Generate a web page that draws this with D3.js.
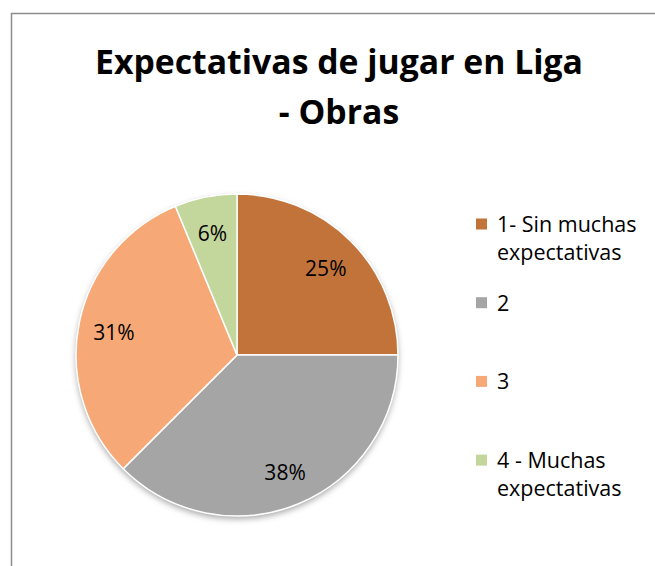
<!DOCTYPE html>
<html>
<head>
<meta charset="utf-8">
<script src="https://cdn.jsdelivr.net/npm/d3@7"></script>
<style>
  html, body { margin: 0; padding: 0; background: #fff; overflow: hidden; }
  svg { display: block; }
  text { font-family: "Open Sans", Lato, sans-serif; }
</style>
</head>
<body>
<svg id="chart" width="655" height="566"></svg>
<script>
// data
var categories = ["1- Sin muchas expectativas", "2", "3", "4 - Muchas expectativas"];
var legendLines = [["1- Sin muchas", "expectativas"], ["2"], ["3"], ["4 - Muchas", "expectativas"]];
var values = [4, 6, 5, 1];
var colors = ["#C1733A", "#A5A5A5", "#F6A977", "#C3D69B"];
var titleLines = ["Expectativas de jugar en Liga", "- Obras"];

var svg = d3.select("#chart");
var cx = 237, cy = 355, r = 161;

// frame of the chart area: only left and top edges are in view
svg.append("path")
  .attr("d", "M11.5,566V13.5H655")
  .attr("fill", "none")
  .attr("stroke", "#8c8c8c")
  .attr("stroke-width", 1.5);

// title, sized so the first line spans the same width as the reference
var title = svg.append("g").selectAll("text")
  .data(titleLines)
  .join("text")
  .attr("x", 339)
  .attr("text-anchor", "middle")
  .attr("font-size", 32)
  .attr("font-weight", "bold")
  .attr("fill", "#000")
  .text(function(d) { return d; });
var w = title.nodes()[0].getComputedTextLength();
var fs = 32 * 488 / w;
title.attr("font-size", fs)
  .attr("y", function(d, i) { return 74 + i * 50; });

// soft shadow under the pie
var defs = svg.append("defs");
var f = defs.append("filter").attr("id", "shadow")
  .attr("x", "-20%").attr("y", "-20%").attr("width", "140%").attr("height", "140%");
f.append("feDropShadow")
  .attr("dx", 0).attr("dy", 3).attr("stdDeviation", 3)
  .attr("flood-color", "#000").attr("flood-opacity", 0.35);

var pie = d3.pie().sort(null).value(function(d) { return d; });
var arcs = pie(values);
var total = d3.sum(values);
var arc = d3.arc().innerRadius(0).outerRadius(r);
var labelArc = d3.arc().innerRadius(r * 0.78).outerRadius(r * 0.78);

var g = svg.append("g").attr("transform", "translate(" + cx + "," + cy + ")");

g.append("circle").attr("r", r).attr("fill", "#fff").attr("filter", "url(#shadow)");

g.selectAll("path")
  .data(arcs)
  .join("path")
  .attr("d", arc)
  .attr("fill", function(d, i) { return colors[i]; })
  .attr("stroke", "#fff")
  .attr("stroke-width", 1.5);

g.selectAll("text.pct")
  .data(arcs)
  .join("text")
  .attr("class", "pct")
  .attr("transform", function(d) { return "translate(" + labelArc.centroid(d) + ")"; })
  .attr("text-anchor", "middle")
  .attr("dy", "0.45em")
  .attr("font-size", 21)
  .attr("fill", "#000")
  .text(function(d) { return Math.round(d.value / total * 100) + "%"; });

// legend
var legend = svg.append("g").attr("transform", "translate(476,0)");
var item = legend.selectAll("g")
  .data(categories)
  .join("g")
  .attr("transform", function(d, i) { return "translate(0," + (224 + i * 78.7) + ")"; });

item.append("rect")
  .attr("x", 0).attr("y", -5.5)
  .attr("width", 11).attr("height", 11)
  .attr("fill", function(d, i) { return colors[i]; });

item.append("text")
  .attr("x", 21)
  .attr("y", 8)
  .attr("font-size", 21.5)
  .attr("fill", "#000")
  .selectAll("tspan")
  .data(function(d, i) { return legendLines[i]; })
  .join("tspan")
  .attr("x", 21)
  .attr("dy", function(d, j) { return j === 0 ? 0 : 28; })
  .text(function(d) { return d; });
</script>
</body>
</html>
